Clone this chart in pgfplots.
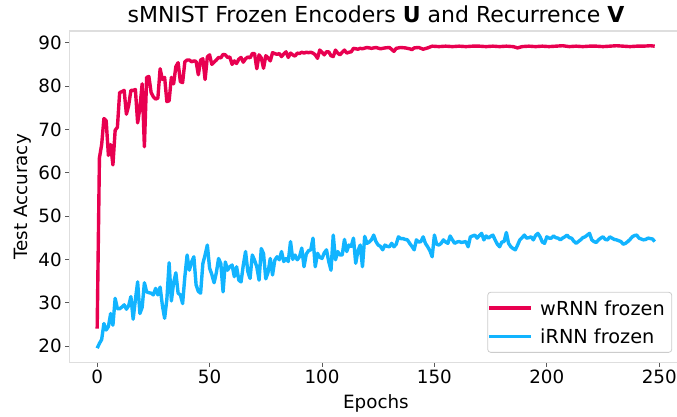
\documentclass[border=0pt]{standalone}
\usepackage{fontspec}
\setmainfont{DejaVu Sans}
\usepackage{pgfplots}
\pgfplotsset{compat=1.18}

\definecolor{wred}{RGB}{232,0,80}
\definecolor{iblue}{RGB}{18,180,255}
\definecolor{framegray}{RGB}{222,222,222}

\pgfplotstableread{
ep acc
0 24.0
1 63.4
2 66.5
3 72.5
4 72.0
5 64.0
6 66.5
7 61.8
8 69.8
9 70.5
10 78.5
11 78.7
12 79.0
13 73.5
14 75.5
15 79.0
16 79.0
17 79.2
18 71.5
19 75.0
20 80.5
21 66.0
22 82.0
23 82.2
24 78.5
25 77.5
26 77.0
27 77.2
28 84.0
29 81.5
30 82.0
31 76.4
32 76.6
33 82.0
34 80.5
35 84.5
36 85.4
37 81.0
38 80.8
39 85.6
40 86.0
41 86.0
42 85.6
43 85.8
44 85.7
45 82.6
46 86.0
47 86.3
48 81.5
49 86.7
50 87.2
51 85.0
52 85.5
53 86.0
54 86.6
55 86.5
56 87.3
57 87.2
58 86.6
59 86.7
60 85.0
61 85.8
62 85.2
63 86.2
64 86.6
65 85.5
66 86.3
67 86.7
68 86.5
69 87.5
70 87.5
71 84.0
72 87.2
73 86.5
74 84.1
75 87.0
76 86.5
77 85.8
78 87.7
79 87.5
80 87.3
81 87.5
82 86.8
83 87.4
84 87.9
85 86.6
86 87.6
87 87.2
88 86.9
89 87.6
90 87.5
91 87.8
92 87.6
93 87.8
94 87.7
95 87.8
96 87.6
97 87.2
98 86.4
99 88.3
100 87.8
101 87.2
102 87.9
103 87.9
104 87.0
105 86.8
106 88.3
107 87.6
108 87.2
109 87.8
110 88.3
111 87.6
112 87.8
113 87.9
114 88.7
115 88.6
116 88.5
117 88.7
118 88.6
120 88.9
122 88.7
124 88.9
126 88.6
128 88.8
130 88.9
132 88.0
133 88.7
135 88.9
137 88.8
139 88.6
140 88.4
141 88.8
143 88.9
145 88.5
147 88.8
149 89.2
152 89.1
155 89.2
158 89.1
161 89.2
164 89.1
167 89.2
170 89.2
173 89.1
176 89.2
179 89.1
182 89.2
185 89.1
187 88.8
189 89.1
192 89.2
195 89.1
198 89.2
201 89.1
204 89.2
207 89.3
210 89.1
213 89.2
216 89.1
219 89.2
222 89.2
225 89.1
228 89.2
231 89.3
234 89.2
237 89.1
240 89.2
243 89.2
246 89.3
248 89.2
}\wrnn

\pgfplotstableread{
ep acc
0 19.5
1 20.6
2 21.5
3 25.2
4 23.7
5 24.5
6 27.5
7 24.8
8 31.0
9 28.6
10 28.6
11 29.0
12 29.5
13 28.5
14 29.3
15 31.4
16 26.2
17 30.7
18 34.8
19 27.5
20 28.9
21 34.6
22 32.5
23 32.3
24 32.2
25 31.8
26 33.3
27 31.8
28 33.6
29 29.4
30 26.4
31 30.8
32 39.2
33 30.4
34 34.6
35 36.9
36 32.2
37 31.8
38 29.8
39 36.0
40 41.0
41 37.5
42 39.4
43 40.6
44 34.1
45 32.6
46 32.2
47 39.0
48 41.0
49 43.3
50 38.0
51 36.5
52 34.6
53 36.9
54 40.2
55 39.0
56 32.5
57 39.4
58 37.5
59 38.3
60 38.7
61 36.0
62 38.3
63 35.2
64 34.8
65 38.7
66 41.8
67 37.2
68 35.6
69 41.0
70 39.8
71 38.3
72 35.2
73 42.5
74 41.3
75 35.5
76 37.0
77 40.2
78 36.4
79 39.8
80 40.6
81 39.9
82 41.8
83 39.5
84 40.2
85 39.5
86 44.1
87 40.0
88 41.0
89 39.9
90 40.6
91 42.6
92 38.3
93 41.2
94 42.0
95 42.2
96 44.9
97 38.3
98 41.4
99 40.5
100 40.2
101 41.5
102 42.2
103 39.5
104 37.5
105 45.6
106 39.9
107 41.8
108 41.0
109 41.0
110 44.6
111 41.8
112 43.3
113 43.0
114 44.9
115 39.1
116 42.0
117 43.3
118 38.3
119 45.3
120 43.7
121 44.0
122 44.5
123 45.6
124 44.1
125 43.3
126 43.0
127 42.2
128 43.3
129 43.0
130 42.9
131 43.7
132 42.9
133 43.5
134 45.2
135 44.8
136 44.8
137 44.6
138 44.5
139 43.7
140 43.0
141 42.2
142 44.5
143 44.0
144 44.1
145 45.2
146 43.7
147 42.9
148 42.0
149 40.6
150 45.6
151 43.5
152 43.3
153 43.7
154 44.5
155 44.0
156 43.7
157 45.4
158 44.5
159 43.7
160 44.0
161 44.1
162 43.9
163 44.0
164 44.1
165 42.9
166 45.2
167 45.4
168 45.6
169 44.9
170 45.5
171 46.0
172 44.5
173 45.4
174 44.9
175 45.3
176 45.6
177 44.5
178 43.5
179 42.9
180 44.0
181 44.1
182 46.2
183 43.7
184 42.9
185 42.5
186 42.2
187 43.3
188 44.5
189 45.0
190 45.6
191 44.9
192 45.0
193 45.2
194 44.5
195 45.5
196 46.0
197 45.2
198 44.0
199 43.7
200 45.2
201 44.9
202 44.9
203 45.4
204 45.0
205 44.9
206 44.5
207 44.9
208 45.2
209 45.6
210 45.0
211 44.9
212 44.2
213 43.7
214 44.1
215 44.5
216 45.0
217 45.2
218 45.6
219 46.0
220 44.5
221 44.1
222 43.9
223 44.5
224 44.9
225 45.2
226 44.6
227 44.5
228 45.2
229 44.9
230 44.6
231 44.5
232 44.3
233 44.1
234 43.5
235 43.7
236 44.1
237 44.6
238 45.2
239 45.5
240 45.6
241 44.9
242 44.7
243 44.5
244 44.6
245 44.9
246 44.8
247 44.7
248 44.1
}\irnn

\begin{document}
\begin{tikzpicture}
\begin{axis}[
    at={(0pt,0pt)}, anchor=south west,
    scale only axis,
    width=613.3pt, height=331.7pt,
    xmin=-12.4, xmax=260.4,
    ymin=16.15, ymax=92.7,
    xtick={0,50,100,150,200,250},
    ytick={20,30,40,50,60,70,80,90},
    xtick pos=bottom, ytick pos=left,
    tick align=outside,
    major tick length=4pt,
    tick style={line width=0.9pt, color=black!65},
    axis line style={line width=1.1pt, draw=framegray},
    /pgf/number format/assume math mode=true,
    tick label style={font=\fontsize{18.3}{22}\selectfont},
    label style={font=\fontsize{18.3}{22}\selectfont},
    title style={font=\fontsize{22}{26}\selectfont},
    title={sMNIST Frozen Encoders \textbf{U} and Recurrence \textbf{V}},
    title style={at={(axis description cs:0.5,1.009)}, anchor=base},
    xlabel={Epochs},
    xlabel style={at={(axis description cs:0.5,-0.1366)}, anchor=base},
    ylabel={Test Accuracy},
    ylabel style={at={(axis description cs:-0.0682,0.5)}, anchor=base, rotate=0},
    legend cell align=left,
    legend image code/.code={\draw[#1, line width=3.5pt] (0pt,0pt) -- (42pt,0pt);},
    legend style={at={(0.983,0.03)}, anchor=south east,
        draw=black!20, line width=0.8pt, rounded corners=3pt, fill=white,
        font=\fontsize{19.3}{23}\selectfont,
        inner xsep=0pt, inner ysep=2pt, row sep=0.5pt,
        nodes={inner xsep=7pt, inner ysep=7pt, text height=13.8pt, text depth=0pt}},
]
\addplot[wred, line width=3.4pt, line join=round] table[x=ep, y=acc] {\wrnn};
\addlegendentry{wRNN frozen}
\addplot[iblue, line width=3.4pt, line join=round] table[x=ep, y=acc] {\irnn};
\addlegendentry{iRNN frozen}
\end{axis}
\pgfresetboundingbox
\path[use as bounding box] (-69.3pt,-53.3pt) rectangle (607.7pt,362.7pt);
\end{tikzpicture}
\end{document}
